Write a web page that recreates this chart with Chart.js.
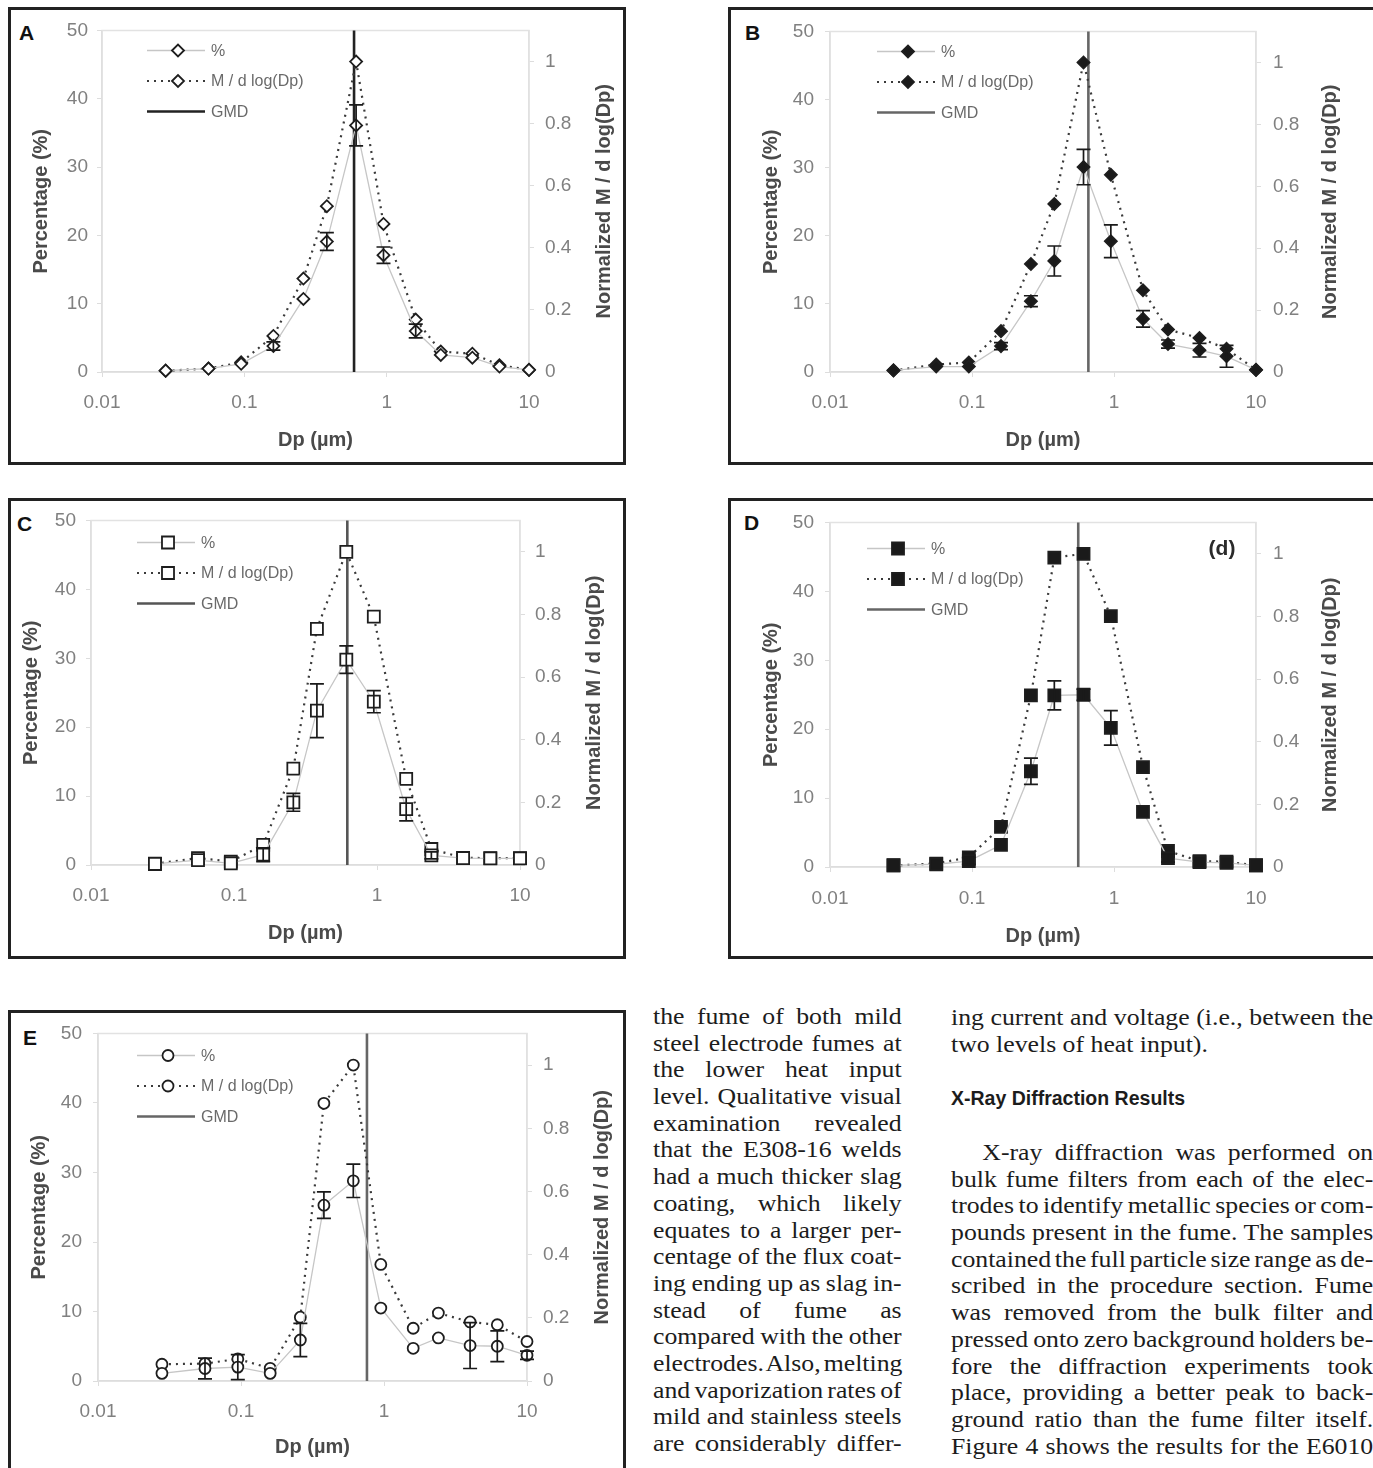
<!DOCTYPE html>
<html>
<head>
<meta charset="utf-8">
<script src="https://cdn.jsdelivr.net/npm/chart.js@4.4.0/dist/chart.umd.min.js"></script>
<style>
html,body{margin:0;padding:0;background:#fff;}
body{width:1373px;height:1468px;position:relative;overflow:hidden;}
.frame{position:absolute;border:3px solid #222;box-sizing:border-box;}
.frame canvas{position:absolute;left:0;top:0;}
.letter{position:absolute;font:bold 21px "Liberation Sans",Arial,sans-serif;line-height:21px;color:#111;}
.col{position:absolute;font-family:"Liberation Serif","Times New Roman",serif;font-size:23px;word-spacing:-3px;color:#1c1c1c;transform:scaleX(1.12);transform-origin:0 0;}
.col div{height:26.7px;line-height:26.7px;white-space:nowrap;text-align:justify;text-align-last:justify;}
.col div.last{text-align:left;text-align-last:left;word-spacing:0;}
.col div.ind{margin-left:28px;}
.head{position:absolute;font:bold 19.5px "Liberation Sans",Arial,sans-serif;color:#1c1c1c;line-height:26px;white-space:nowrap;}
</style>
</head>
<body>
<div class="letter" style="left:19px;top:22px;">A</div>
<div class="letter" style="left:745px;top:22px;">B</div>
<div class="letter" style="left:17px;top:513px;">C</div>
<div class="letter" style="left:744px;top:512px;">D</div>
<div class="letter" style="left:23px;top:1027px;">E</div>

<div class="col" style="left:653px;top:1004px;width:222px;">
<div>the fume of both mild</div>
<div>steel electrode fumes at</div>
<div>the lower heat input</div>
<div>level. Qualitative visual</div>
<div>examination revealed</div>
<div>that the E308-16 welds</div>
<div>had a much thicker slag</div>
<div>coating, which likely</div>
<div>equates to a larger per-</div>
<div>centage of the flux coat-</div>
<div>ing ending up as slag in-</div>
<div>stead of fume as</div>
<div>compared with the other</div>
<div>electrodes. Also, melting</div>
<div>and vaporization rates of</div>
<div>mild and stainless steels</div>
<div>are considerably differ-</div>
</div>

<div class="col" style="left:951px;top:1005px;width:377px;">
<div>ing current and voltage (i.e., between the</div>
<div class="last">two levels of heat input).</div>
</div>
<div class="head" style="left:951px;top:1085px;">X-Ray Diffraction Results</div>
<div class="col" style="left:951px;top:1140px;width:377px;">
<div class="ind">X-ray diffraction was performed on</div>
<div>bulk fume filters from each of the elec-</div>
<div>trodes to identify metallic species or com-</div>
<div>pounds present in the fume. The samples</div>
<div>contained the full particle size range as de-</div>
<div>scribed in the procedure section. Fume</div>
<div>was removed from the bulk filter and</div>
<div>pressed onto zero background holders be-</div>
<div>fore the diffraction experiments took</div>
<div>place, providing a better peak to back-</div>
<div>ground ratio than the fume filter itself.</div>
<div>Figure 4 shows the results for the E6010</div>
</div>

<script>
// ---------- DATA ----------
const sizes = [0.028, 0.056, 0.095, 0.16, 0.26, 0.38, 0.61, 0.95, 1.6, 2.4, 4.0, 6.2, 10];
const xTickValues = [0.01, 0.1, 1, 10];
const xTickLabels = ['0.01', '0.1', '1', '10'];
const yTickValues = [0, 10, 20, 30, 40, 50];
const y1TickValues = [0, 0.2, 0.4, 0.6, 0.8, 1];
const seriesNames = ['%', 'M / d log(Dp)', 'GMD'];

const pctA  = [0.2, 0.5, 1.2, 3.8, 10.7, 19.1, 36.1, 17.1, 6.0, 2.5, 2.1, 0.8, 0.3];
const errA  = [0.1, 0.2, 0.3, 0.6, 0.4, 1.3, 3.0, 1.2, 1.0, 0.4, 0.3, 0.2, 0.1];
const massA = [0.004, 0.011, 0.031, 0.116, 0.301, 0.534, 1.0, 0.477, 0.169, 0.066, 0.059, 0.022, 0.007];
const gmdA = 0.59;

const pctB  = [0.25, 0.8, 0.8, 3.8, 10.4, 16.3, 30.1, 19.2, 7.8, 4.1, 3.2, 2.3, 0.3];
const errB  = [0.1, 0.3, 0.4, 0.5, 0.8, 2.2, 2.6, 2.4, 1.2, 0.6, 1.0, 1.6, 0.1];
const massB = [0.005, 0.024, 0.031, 0.132, 0.349, 0.543, 1.0, 0.637, 0.264, 0.137, 0.110, 0.075, 0.007];
const gmdB = 0.66;

const pctC  = [0.15, 0.7, 0.25, 1.5, 9.1, 22.4, 29.8, 23.7, 8.1, 1.4, 1.0, 0.95, 0.95];
const errC  = [0.1, 0.2, 0.2, 1.0, 1.3, 3.9, 2.0, 1.6, 1.7, 0.5, 0.2, 0.2, 0.2];
const massC = [0.004, 0.022, 0.011, 0.064, 0.308, 0.754, 1.0, 0.793, 0.275, 0.051, 0.023, 0.022, 0.022];
const gmdC = 0.62;

const pctD  = [0.25, 0.4, 0.85, 3.2, 13.9, 24.9, 25.0, 20.2, 8.0, 1.3, 0.7, 0.6, 0.25];
const errD  = [0.1, 0.2, 0.5, 0.3, 1.9, 2.1, 0.8, 2.5, 0.3, 0.6, 0.2, 0.2, 0.1];
const massD = [0.005, 0.011, 0.031, 0.128, 0.548, 0.988, 1.0, 0.801, 0.319, 0.051, 0.019, 0.017, 0.005];
const gmdD = 0.56;

const pctE  = [1.1, 1.8, 2.0, 1.1, 5.9, 25.3, 28.8, 10.5, 4.7, 6.2, 5.1, 5.0, 3.7];
const errE  = [0.3, 1.5, 1.8, 0.4, 2.4, 1.9, 2.4, 0.4, 0.3, 0.4, 3.3, 2.2, 0.6];
const massE = [0.053, 0.055, 0.070, 0.040, 0.202, 0.879, 1.0, 0.369, 0.167, 0.215, 0.187, 0.178, 0.125];
const gmdE = 0.76;

// ---------- LAYOUT (page pixels) ----------
const B = 3;
const SANS = '"Liberation Sans", Arial, Helvetica, sans-serif';
const TICK_FS = 19, TITLE_FS = 20, TL = 5;

const panels = [
  {frame:[8,7,618,458],   plot:[102,25,529,372],   yTickR:88,  yTitleX:41,  y1TickL:545,  y1TitleX:604,  xTickY:403,  xTitleY:440,  legend:[45,20], style:'rectRot', filled:false, radius:6,   gmdColor:'#222', data:{pct:pctA, err:errA, mass:massA, gmd:gmdA}},
  {frame:[728,7,650,458], plot:[830,25,1256,372],  yTickR:814, yTitleX:771, y1TickL:1273, y1TitleX:1330, xTickY:403,  xTitleY:440,  legend:[47,20], style:'rectRot', filled:true,  radius:6,   gmdColor:'#666', data:{pct:pctB, err:errB, mass:massB, gmd:gmdB}},
  {frame:[8,498,618,461], plot:[91,515,520,865],   yTickR:76,  yTitleX:31,  y1TickL:535,  y1TitleX:594,  xTickY:896,  xTitleY:933,  legend:[46,22], style:'rect',    filled:false, radius:8.5, gmdColor:'#555', data:{pct:pctC, err:errC, mass:massC, gmd:gmdC}},
  {frame:[728,498,650,461],plot:[830,515,1256,867],yTickR:814, yTitleX:771, y1TickL:1273, y1TitleX:1330, xTickY:899,  xTitleY:936,  legend:[37,26], style:'rect',    filled:true,  radius:8.5, gmdColor:'#666', data:{pct:pctD, err:errD, mass:massD, gmd:gmdD}, note:'(d)'},
  {frame:[8,1010,618,520],plot:[98,1030,527,1381], yTickR:82,  yTitleX:39,  y1TickL:543,  y1TitleX:602,  xTickY:1412, xTitleY:1447, legend:[39,22], style:'circle',  filled:false, radius:5.5, gmdColor:'#666', data:{pct:pctE, err:errE, mass:massE, gmd:gmdE}}
];

// ---------- PLUGINS ----------
const plotFrame = {
  id:'plotFrame',
  beforeDatasetsDraw(chart){
    const a = chart.chartArea, ctx = chart.ctx;
    ctx.save();
    ctx.strokeStyle = '#e2e2e2'; ctx.lineWidth = 1.5;
    ctx.strokeRect(a.left, a.top, a.right - a.left, a.bottom - a.top);
    ctx.restore();
  }
};

const errorBars = {
  id:'errorBars',
  afterDatasetsDraw(chart, args, opts){
    const ctx = chart.ctx, x = chart.scales.x, y = chart.scales.y;
    ctx.save();
    ctx.strokeStyle = '#1a1a1a'; ctx.lineWidth = 1.7;
    sizes.forEach((s, i) => {
      if (opts.err[i] < 0.5) return;
      const px = x.getPixelForValue(s);
      const t = y.getPixelForValue(opts.pct[i] + opts.err[i]);
      const b = y.getPixelForValue(Math.max(0, opts.pct[i] - opts.err[i]));
      ctx.beginPath();
      ctx.moveTo(px, t); ctx.lineTo(px, b);
      ctx.moveTo(px - 7, t); ctx.lineTo(px + 7, t);
      ctx.moveTo(px - 7, b); ctx.lineTo(px + 7, b);
      ctx.stroke();
    });
    ctx.restore();
  }
};

function markerPath(ctx, style, r, x, y){
  ctx.beginPath();
  if (style === 'circle') { ctx.arc(x, y, r, 0, Math.PI * 2); }
  else if (style === 'rect') { const s = Math.SQRT1_2 * r; ctx.rect(x - s, y - s, 2 * s, 2 * s); }
  else { ctx.moveTo(x - r, y); ctx.lineTo(x, y - r); ctx.lineTo(x + r, y); ctx.lineTo(x, y + r); ctx.closePath(); }
}

const insideLegend = {
  id:'insideLegend',
  afterDraw(chart, args, opts){
    const ctx = chart.ctx, a = chart.chartArea;
    const x0 = a.left + opts.dx, y0 = a.top + opts.dy;
    ctx.save();
    ctx.font = '16px ' + SANS;
    ctx.textBaseline = 'middle';
    chart.data.datasets.forEach((ds, i) => {
      const yy = y0 + i * 30.5;
      ctx.save();
      ctx.strokeStyle = ds.borderColor; ctx.lineWidth = ds.borderWidth;
      ctx.setLineDash(ds.borderDash || []);
      ctx.beginPath(); ctx.moveTo(x0, yy); ctx.lineTo(x0 + 58, yy); ctx.stroke();
      ctx.restore();
      if (ds.pointRadius > 0) {
        markerPath(ctx, ds.pointStyle, ds.pointRadius, x0 + 31, yy);
        ctx.fillStyle = ds.pointBackgroundColor; ctx.fill();
        ctx.strokeStyle = ds.pointBorderColor; ctx.lineWidth = ds.pointBorderWidth; ctx.stroke();
      }
      ctx.fillStyle = '#6a6a6a';
      ctx.fillText(ds.label, x0 + 64, yy + 1);
    });
    if (opts.note) {
      ctx.font = 'bold 21px ' + SANS; ctx.fillStyle = '#2a2a2a'; ctx.textAlign = 'center';
      ctx.fillText(opts.note, a.right - 34, a.top + 27);
    }
    ctx.restore();
  }
};

const rightTitle = {
  id:'rightTitle',
  afterDraw(chart, args, opts){
    const ctx = chart.ctx, a = chart.chartArea;
    ctx.save();
    ctx.translate(opts.x, (a.top + a.bottom) / 2);
    ctx.rotate(-Math.PI / 2);
    ctx.font = 'bold ' + TITLE_FS + 'px ' + SANS;
    ctx.fillStyle = '#4a4a4a'; ctx.textAlign = 'center'; ctx.textBaseline = 'middle';
    ctx.fillText(opts.text, 0, 0);
    ctx.restore();
  }
};

// ---------- BUILD ----------
function buildPanel(p){
  const [fx, fy, fw, fh] = p.frame;
  const fr = document.createElement('div');
  fr.className = 'frame';
  Object.assign(fr.style, {left: fx + 'px', top: fy + 'px', width: fw + 'px', height: fh + 'px'});
  document.body.appendChild(fr);
  const cw = fw - 2 * B, ch = fh - 2 * B;
  const cv = document.createElement('canvas');
  cv.width = cw; cv.height = ch;
  cv.style.width = cw + 'px'; cv.style.height = ch + 'px';
  fr.appendChild(cv);
  const cx = fx + B, cy = fy + B;
  const [pl, pt, pr, pb] = p.plot;
  const d = p.data;
  const fill = p.filled ? '#1a1a1a' : '#ffffff';

  const marker = {
    pointStyle: p.style, pointRadius: p.radius, pointHoverRadius: p.radius,
    pointBackgroundColor: fill, pointBorderColor: '#1e1e1e', pointBorderWidth: 1.8
  };

  const datasets = [
    Object.assign({
      label: seriesNames[0], yAxisID: 'y',
      data: sizes.map((s, i) => ({x: s, y: d.pct[i]})),
      borderColor: '#c6c6c6', borderWidth: 1.3, tension: 0, clip: false
    }, marker),
    Object.assign({
      label: seriesNames[1], yAxisID: 'y1',
      data: sizes.map((s, i) => ({x: s, y: d.mass[i]})),
      borderColor: '#3a3a3a', borderWidth: 2.2, borderDash: [2, 5], tension: 0, clip: false
    }, marker),
    {
      label: seriesNames[2], yAxisID: 'y',
      data: [{x: d.gmd, y: 0}, {x: d.gmd, y: 50}],
      borderColor: p.gmdColor, borderWidth: 2.6, pointRadius: 0, pointHoverRadius: 0, clip: false
    }
  ];

  const tickFont = {family: SANS, size: TICK_FS, lineHeight: 1};
  const titleFont = {family: SANS, size: TITLE_FS, weight: 'bold', lineHeight: 1};

  new Chart(cv, {
    type: 'line',
    data: {datasets},
    options: {
      responsive: false, animation: false, devicePixelRatio: 1,
      layout: {padding: {top: pt - cy, left: 0, right: 0, bottom: 0}},
      plugins: {
        legend: {display: false}, tooltip: {enabled: false},
        errorBars: {pct: d.pct, err: d.err},
        insideLegend: {dx: p.legend[0], dy: p.legend[1], note: p.note || ''},
        rightTitle: {x: p.y1TitleX - cx, text: 'Normalized M / d log(Dp)'}
      },
      scales: {
        x: {
          type: 'logarithmic', position: 'bottom', min: 0.01, max: 10,
          afterBuildTicks: s => { s.ticks = xTickValues.map(v => ({value: v})); },
          afterFit: s => { s.height = (cy + ch) - pb; },
          ticks: {autoSkip: false, maxRotation: 0, minRotation: 0, font: tickFont, color: '#808080',
                  padding: p.xTickY - TICK_FS / 2 - pb - TL,
                  callback: (v, i) => xTickLabels[i]},
          grid: {drawOnChartArea: false, drawTicks: true, tickLength: TL, color: '#dddddd'},
          border: {display: true, color: '#d0d0d0', width: 1.5},
          title: {display: true, text: 'Dp (µm)', font: titleFont, color: '#4a4a4a',
                  padding: {top: 0, bottom: (cy + ch) - p.xTitleY - TITLE_FS / 2}}
        },
        y: {
          position: 'left', min: 0, max: 50,
          afterBuildTicks: s => { s.ticks = yTickValues.map(v => ({value: v})); },
          afterFit: s => { s.width = pl - cx; },
          ticks: {font: tickFont, color: '#808080', padding: (pl - p.yTickR) - TL},
          grid: {drawOnChartArea: false, drawTicks: true, tickLength: TL, color: '#dddddd'},
          border: {display: true, color: '#d6d6d6', width: 1.5},
          title: {display: true, text: 'Percentage (%)', font: titleFont, color: '#4a4a4a',
                  padding: {top: p.yTitleX - cx - TITLE_FS / 2, bottom: 0}}
        },
        y1: {
          position: 'right', min: 0, max: 1.1,
          afterBuildTicks: s => { s.ticks = y1TickValues.map(v => ({value: v})); },
          afterFit: s => { s.width = (cx + cw) - pr; },
          ticks: {font: tickFont, color: '#808080', padding: p.y1TickL - pr - TL,
                  callback: v => String(+v.toFixed(1))},
          grid: {drawOnChartArea: false, drawTicks: true, tickLength: TL, color: '#dddddd'},
          border: {display: true, color: '#e0e0e0', width: 1.5},
          title: {display: false}
        }
      }
    },
    plugins: [plotFrame, errorBars, insideLegend, rightTitle]
  });
}

panels.forEach(buildPanel);
</script>
</body>
</html>
